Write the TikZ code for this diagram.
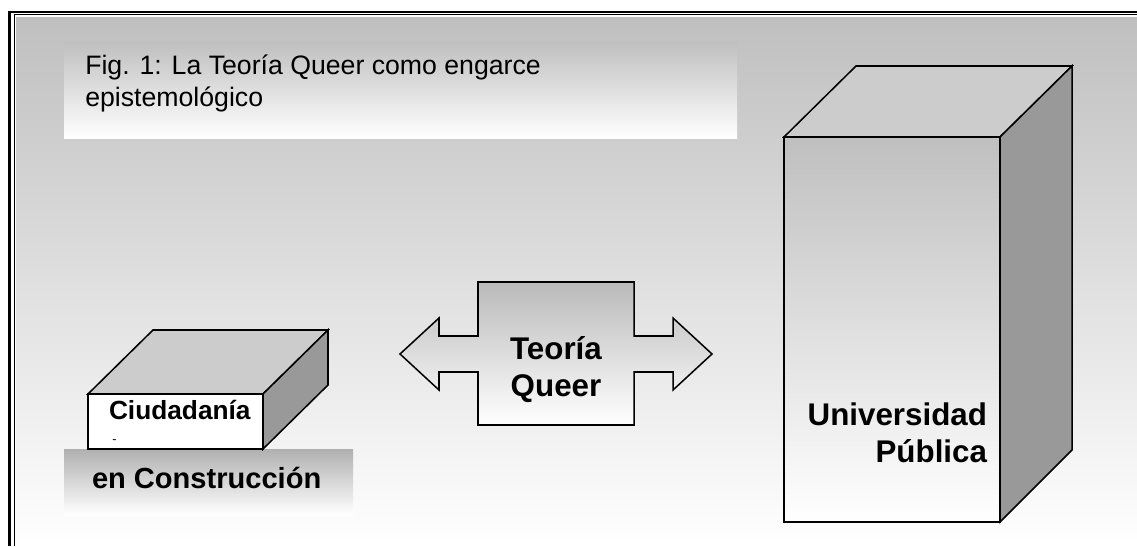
\documentclass[tikz,border=0pt]{standalone}
\usepackage{fontspec}
\setmainfont{Liberation Sans}
\usetikzlibrary{calc}

\tikzset{
  edge/.style={line width=0.4mm, color=black},
  lbl/.style={inner sep=0pt, outer sep=0pt, font=\bfseries},
}

\begin{document}
\begin{tikzpicture}[x=0.75pt, y=-0.75pt]
		%%%%% START %%%%%
		\useasboundingbox (0, 0) rectangle (1137, 546);
		
		% page and frame
		\fill[white] (0, 0) rectangle (1137, 546);
		\shade[top color=black!25, bottom color=white] (16, 17) rectangle (1137, 546);
		\draw[line width=0.55mm] (9.5, 546) -- (9.5, 12) -- (1137, 12);
		\draw[line width=0.25mm] (14.3, 546) -- (14.3, 14.8) -- (1137, 14.8);
		
		% caption
		\shade[top color=black!25, bottom color=white] (64, 42) rectangle (737, 138);
		\node[inner sep=0pt, anchor=base west, align=left, font=\fontsize{20}{24}\selectfont] (title) at (85, 106)
			{Fig. 1: La Teoría Queer como engarce\\epistemológico};
		
		% ground under the small block
		\shade[top color=black!31, bottom color=white] (64, 449) rectangle (353, 515);
		\node[lbl, anchor=base west, font=\bfseries\fontsize{21.8}{26}\selectfont] (constr) at (92, 488) {en Construcción};
		
		% small block
		\draw[edge, fill=black!20] (88, 394) -- (153, 330) -- (328, 330) -- (263, 394) -- cycle;
		\draw[edge, fill=black!40] (263, 394) -- (328, 330) -- (328, 385) -- (263, 449) -- cycle;
		\draw[edge, fill=white] (88, 394) rectangle (263, 449);
		\node[lbl, anchor=base west, font=\bfseries\fontsize{19.7}{23}\selectfont] (ciud) at (109, 419) {Ciudadanía};
		\node[inner sep=0pt, anchor=base, font=\fontsize{9.5}{11}\selectfont] (dash) at (114.5, 443) {-};
		
		% double arrow
		\shade[edge, draw, top color=black!27, bottom color=white]
			(400, 354) -- (439, 318) -- (439, 336) -- (478, 336) -- (478, 282) -- (634, 282)
			-- (634, 336) -- (673, 336) -- (673, 318) -- (712, 354) -- (673, 390) -- (673, 372)
			-- (634, 372) -- (634, 425) -- (478, 425) -- (478, 372) -- (439, 372) -- (439, 390) -- cycle;
		\node[lbl, anchor=base, align=center, font=\bfseries\fontsize{23.5}{27.5}\selectfont] (teoria) at (556, 396)
			{Teoría\\Queer};
		
		% big block
		\draw[edge, fill=black!20] (784, 137) -- (856, 66) -- (1072, 66) -- (1000, 137) -- cycle;
		\draw[edge, fill=black!40] (1000, 137) -- (1072, 66) -- (1072, 450) -- (1000, 522) -- cycle;
		\shade[top color=black!25, bottom color=white] (784, 137) rectangle (1000, 522);
		\draw[edge] (784, 137) rectangle (1000, 522);
		\node[lbl, anchor=base east, align=right, font=\bfseries\fontsize{23.5}{27.75}\selectfont] (univ) at (987, 462)
			{Universidad\\Pública};
		
		%%%%% END %%%%%
	\end{tikzpicture}
\end{document}
